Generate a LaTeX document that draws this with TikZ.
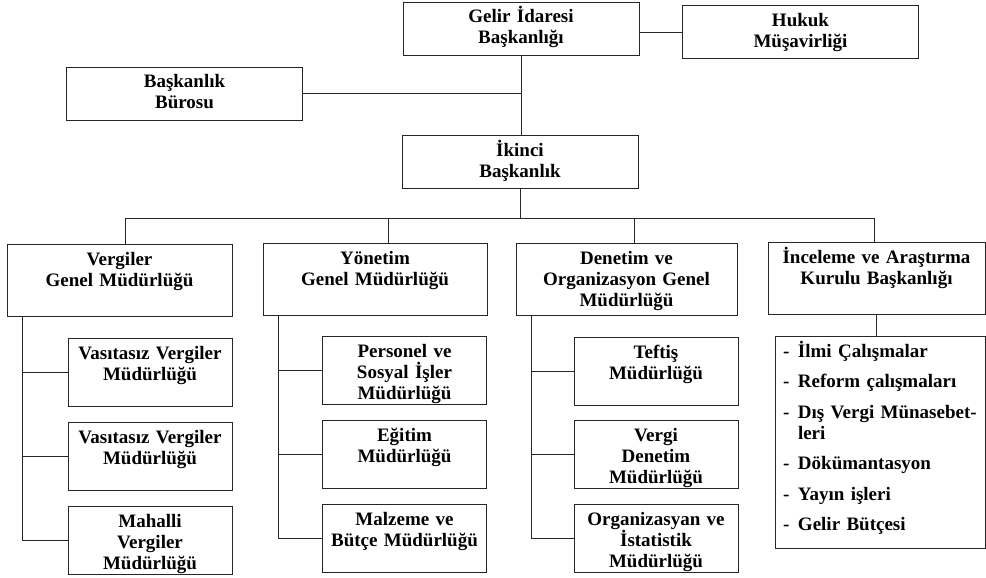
\documentclass[tikz,border=0pt]{standalone}
\usepackage{fontspec}
\setmainfont{Liberation Serif}
\usepackage{tikz}
\usetikzlibrary{positioning}
\definecolor{cizgi}{HTML}{262626}
\tikzset{
  birim/.style 2 args={
    rectangle, draw=cizgi, line width=0.9pt, inner sep=0pt,
    text width=#1, text height=21pt, text depth=#2-21pt,
    align=center, font=\bfseries\fontsize{19}{21}\selectfont
  },
  ust/.style={birim={236pt}{53pt}},
  genel/.style={birim={#1}{72pt}},
  mudurluk/.style={birim={164pt}{68pt}},
  liste/.style={birim={194pt}{212pt}, align=left, inner xsep=8pt},
  baglanti/.style={draw=cizgi, line width=0.9pt},
}
\newcommand\madde[1]{\makebox[15pt][l]{-}#1}

\begin{document}
\begin{tikzpicture}[x=1pt, y=-1pt, node distance=15pt]
\useasboundingbox (0,0) rectangle (986,578);

% Top level
\node[ust] (gelir) at (521,28.5) {Gelir İdaresi\\Başkanlığı};
\node[ust] (hukuk) at (800.5,32) {Hukuk\\Müşavirliği};
\node[ust] (buro) at (184.5,93.5) {Başkanlık\\Bürosu};
\node[ust] (ikinci) at (520,161.5) {İkinci\\Başkanlık};

\draw[baglanti] (hukuk.west) -- (hukuk.west -| gelir.east);
\draw[baglanti] (gelir.south) -- (gelir.south |- ikinci.north);
\draw[baglanti] (buro.east) -- (buro.east -| gelir.south);

% General directorates
\node[genel=225pt] (vergiler) at (119.5,280) {Vergiler\\Genel Müdürlüğü};
\node[genel=224pt] (yonetim) at (375,279) {Yönetim\\Genel Müdürlüğü};
\node[genel=221pt] (denetim) at (626.5,279.5) {Denetim ve\\Organizasyon Genel\\Müdürlüğü};
\node[genel=217pt] (inceleme) at (876.5,278.5) {İnceleme ve Araştırma\\Kurulu Başkanlığı};

% Bus below the second presidency
\coordinate (bara) at (520,218);
\draw[baglanti] (ikinci.south) -- (ikinci.south |- bara);
\foreach \n/\dx in {vergiler/6, yonetim/13, denetim/8, inceleme/-2} {
  \coordinate (\n-in) at ([xshift=\dx pt]\n.north);
  \draw[baglanti] (\n-in) -- (\n-in |- bara);
}
\draw[baglanti] (vergiler-in |- bara) -- (inceleme-in |- bara);

% Directorates (left column)
\node[mudurluk] (v1) at (150,372.5) {Vasıtasız Vergiler\\Müdürlüğü};
\node[mudurluk, below=of v1] (v2) {Vasıtasız Vergiler\\Müdürlüğü};
\node[mudurluk, below=of v2] (v3) {Mahalli\\Vergiler\\Müdürlüğü};

\node[mudurluk] (y1) at (404.5,370.5) {Personel ve\\Sosyal İşler\\Müdürlüğü};
\node[mudurluk, below=of y1] (y2) {Eğitim\\Müdürlüğü};
\node[mudurluk, below=of y2] (y3) {Malzeme ve\\Bütçe Müdürlüğü};

\node[mudurluk] (d1) at (656,371) {Teftiş\\Müdürlüğü};
\node[mudurluk, below=of d1] (d2) {Vergi\\Denetim\\Müdürlüğü};
\node[mudurluk, below=of d2] (d3) {Organizasyan ve\\İstatistik\\Müdürlüğü};

\foreach \ust/\alt in {vergiler/v, yonetim/y, denetim/d} {
  \coordinate (\alt0) at ([xshift=16pt]\ust.south west);
  \draw[baglanti] (\alt0) |- (\alt3.west);
  \foreach \i in {1,2}
    \draw[baglanti] (\alt\i.west) -- (\alt\i.west -| \alt0);
}

% Board topics (right side)
\node[liste] (konular) at (880,442) {%
  \madde{İlmi Çalışmalar}\\[9.5pt]
  \madde{Reform çalışmaları}\\[9.5pt]
  \madde{\makebox[175pt][s]{Dış Vergi Münasebet-}}\\
  \hspace*{15pt}leri\\[9.5pt]
  \madde{Dökümantasyon}\\[9.5pt]
  \madde{Yayın işleri}\\[9.5pt]
  \madde{Gelir Bütçesi}};
\draw[baglanti] (inceleme.south) -- (inceleme.south |- konular.north);

\end{tikzpicture}
\end{document}
